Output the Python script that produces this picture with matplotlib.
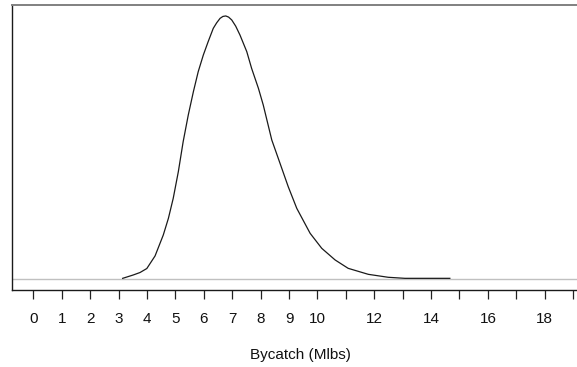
import matplotlib
matplotlib.use("Agg")
import matplotlib.pyplot as plt

# Density curve (x in Mlbs, y density)
bycatch = [3.14, 3.51, 3.75, 3.99, 4.28, 4.57, 4.75, 4.92, 5.10, 5.27, 5.45, 5.63,
           5.80, 5.98, 6.15, 6.33, 6.45, 6.57, 6.67, 6.77, 6.87, 6.98, 7.12, 7.27,
           7.51, 7.68, 7.92, 8.09, 8.39, 8.68, 8.97, 9.27, 9.74, 10.15, 10.62, 11.08,
           11.79, 12.49, 13.08, 14.66]
density = [0.0007, 0.0042, 0.0068, 0.0110, 0.0242, 0.0462, 0.0637, 0.0847, 0.1127,
           0.1442, 0.1722, 0.1967, 0.2177, 0.2352, 0.2492, 0.2632, 0.2690, 0.2737,
           0.2757, 0.2762, 0.2750, 0.2720, 0.2655, 0.2562, 0.2387, 0.2212, 0.2002,
           0.1827, 0.1460, 0.1215, 0.0969, 0.0742, 0.0480, 0.0322, 0.0200, 0.0112,
           0.0049, 0.0018, 0.0007, 0.0007]

tick_positions = list(range(0, 20))
tick_labels = [str(t) if (t <= 10 or t % 2 == 0) else "" for t in tick_positions]

W, H = 577, 367
fig = plt.figure(figsize=(W / 100, H / 100), dpi=100)
ax = fig.add_axes([12 / W, (H - 290) / H, 576 / W, 285 / H])

ax.axhline(0, color="#c0c0c0", lw=1.0, zorder=1)
ax.plot(bycatch, density, color="#1a1a1a", lw=0.9, zorder=2,
        solid_joinstyle="round")

ax.set_xlim(-0.757, 19.525)
ax.set_ylim(-0.01155, 0.2877)

ax.set_yticks([])
ax.set_xticks(tick_positions)
ax.set_xticklabels(tick_labels, family="Liberation Sans", fontsize=11, color="#111111")
ax.tick_params(axis="x", direction="out", length=6.5, width=0.9, color="#222222", pad=9)

ax.spines["right"].set_visible(False)
ax.spines["top"].set_color("#808080")
ax.spines["top"].set_linewidth(1.4)
ax.spines["left"].set_color("#1a1a1a")
ax.spines["left"].set_linewidth(1.0)
ax.spines["bottom"].set_color("#1a1a1a")
ax.spines["bottom"].set_linewidth(1.0)

fig.text(300 / W, 1 - 355 / H, "Bycatch (Mlbs)", family="Liberation Sans",
         fontsize=11, ha="center", va="center", color="#111111")

fig.savefig("out.png", dpi=100)
